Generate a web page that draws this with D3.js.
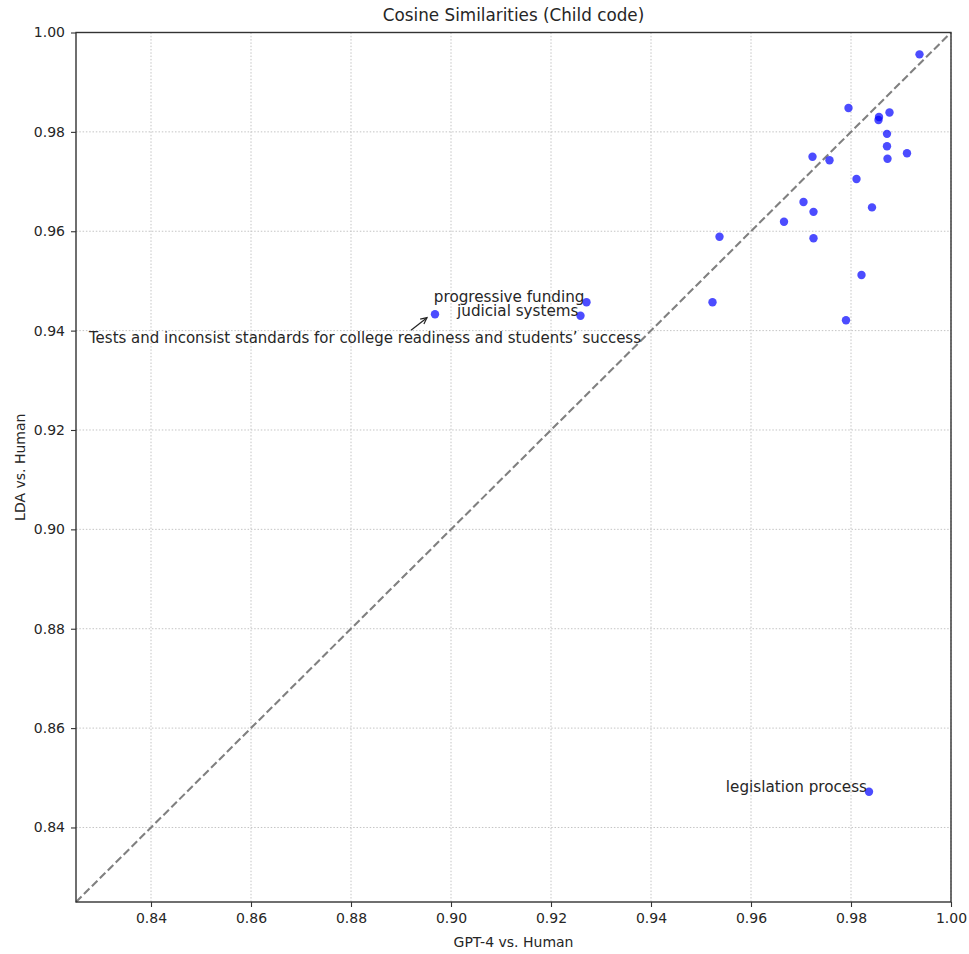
<!DOCTYPE html>
<html>
<head>
<meta charset="utf-8">
<script src="https://cdn.jsdelivr.net/npm/d3@7"></script>
<style>
  html, body { margin: 0; padding: 0; background: #fff; }
  svg { display: block; }
  text { font-family: "DejaVu Sans", sans-serif; fill: #262626; }
</style>
</head>
<body>
<svg id="chart" width="969" height="954"></svg>
<script>
// Cosine similarity per child code: GPT-4 vs. human coding (x) and LDA vs. human coding (y)
const gptVsHuman = [
  0.9937, 0.9795, 0.9856, 0.9855, 0.9877, 0.9872, 0.9872, 0.9873, 0.9912,
  0.9723, 0.9757, 0.9811, 0.9705, 0.9725, 0.9842, 0.9666, 0.9537, 0.9725,
  0.9523, 0.9821, 0.9790, 0.8968, 0.9271, 0.9259, 0.9836
];
const ldaVsHuman = [
  0.9956, 0.9848, 0.9830, 0.9824, 0.9839, 0.9796, 0.9771, 0.9746, 0.9757,
  0.9750, 0.9743, 0.9705, 0.9659, 0.9639, 0.9648, 0.9619, 0.9589, 0.9586,
  0.9457, 0.9512, 0.9421, 0.9433, 0.9457, 0.9430, 0.8472
];
// Names of the child codes that are labelled (empty = unlabelled)
const codeLabels = [
  "", "", "", "", "", "", "", "", "",
  "", "", "", "", "", "", "", "", "",
  "", "", "",
  "Tests and inconsist standards for college readiness and students\u2019 success",
  "progressive funding", "judicial systems", "legislation process"
];
// Codes whose label is set off from the point with an arrow
const arrowLabels = ["Tests and inconsist standards for college readiness and students\u2019 success"];

const axisDomain = [0.825, 1.0];
const tickValues = [0.84, 0.86, 0.88, 0.90, 0.92, 0.94, 0.96, 0.98, 1.00];

const chartTitle = "Cosine Similarities (Child code)";
const xTitle = "GPT-4 vs. Human";
const yTitle = "LDA vs. Human";

const W = 969, H = 954;
const plot = { left: 76, right: 951, top: 32.5, bottom: 902 };
const labelSize = 15.2;

const svg = d3.select("#chart");
const x = d3.scaleLinear().domain(axisDomain).range([plot.left, plot.right]);
const y = d3.scaleLinear().domain(axisDomain).range([plot.bottom, plot.top]);

const points = gptVsHuman.map((g, i) => ({ gx: g, ly: ldaVsHuman[i], label: codeLabels[i] }));

// grid
const grid = svg.append("g").attr("class", "grid")
  .attr("stroke", "#c4c4c4").attr("stroke-width", 1).attr("stroke-dasharray", "1.5,1.8");
grid.selectAll("line.vx").data(tickValues).join("line")
  .attr("x1", d => x(d)).attr("x2", d => x(d))
  .attr("y1", plot.top).attr("y2", plot.bottom);
grid.selectAll("line.hy").data(tickValues).join("line")
  .attr("y1", d => y(d)).attr("y2", d => y(d))
  .attr("x1", plot.left).attr("x2", plot.right);

// y = x reference line
svg.append("line")
  .attr("x1", x(axisDomain[0])).attr("y1", y(axisDomain[0]))
  .attr("x2", x(axisDomain[1])).attr("y2", y(axisDomain[1]))
  .attr("stroke", "#808080").attr("stroke-width", 2.1)
  .attr("stroke-dasharray", "7.8,3.4");

// points
svg.append("g").selectAll("circle").data(points).join("circle")
  .attr("cx", d => x(d.gx)).attr("cy", d => y(d.ly))
  .attr("r", 4.2)
  .attr("fill", "blue").attr("fill-opacity", 0.7);

// axes
const fmt = d3.format(".2f");
const xAxis = svg.append("g").attr("transform", `translate(0,${plot.bottom})`)
  .call(d3.axisBottom(x).tickValues(tickValues).tickFormat(fmt).tickSize(5).tickPadding(6));
const yAxis = svg.append("g").attr("transform", `translate(${plot.left},0)`)
  .call(d3.axisLeft(y).tickValues(tickValues).tickFormat(fmt).tickSize(5).tickPadding(6));
[xAxis, yAxis].forEach(a => {
  a.select(".domain").remove();
  a.selectAll(".tick line").attr("stroke", "#333").attr("stroke-width", 1.1);
  a.selectAll(".tick text").attr("font-size", 14).attr("fill", "#262626")
    .attr("font-family", "DejaVu Sans, sans-serif");
});

// frame
svg.append("rect")
  .attr("x", plot.left).attr("y", plot.top)
  .attr("width", plot.right - plot.left).attr("height", plot.bottom - plot.top)
  .attr("fill", "none").attr("stroke", "#333").attr("stroke-width", 1.4);

// point labels
const labelled = points.filter(d => d.label);
labelled.forEach(d => {
  const px = x(d.gx), py = y(d.ly);
  if (arrowLabels.includes(d.label)) {
    svg.append("text")
      .attr("x", px - 70).attr("y", py + 29)
      .attr("text-anchor", "middle").attr("font-size", labelSize)
      .attr("textLength", 552).attr("lengthAdjust", "spacingAndGlyphs")
      .text(d.label);
    const tail = [px - 24, py + 16], tip = [px - 8, py + 3.5];
    const ang = Math.atan2(tip[1] - tail[1], tip[0] - tail[0]);
    const hl = 7, ha = Math.PI / 7;
    svg.append("line")
      .attr("x1", tail[0]).attr("y1", tail[1]).attr("x2", tip[0]).attr("y2", tip[1])
      .attr("stroke", "#222").attr("stroke-width", 1.2);
    svg.append("path")
      .attr("d", `M${tip[0] - hl * Math.cos(ang - ha)},${tip[1] - hl * Math.sin(ang - ha)}L${tip[0]},${tip[1]}L${tip[0] - hl * Math.cos(ang + ha)},${tip[1] - hl * Math.sin(ang + ha)}`)
      .attr("fill", "none").attr("stroke", "#222").attr("stroke-width", 1.2);
  } else {
    svg.append("text")
      .attr("x", px - 2).attr("y", py)
      .attr("text-anchor", "end").attr("font-size", labelSize)
      .text(d.label);
  }
});

// titles
svg.append("text")
  .attr("x", (plot.left + plot.right) / 2).attr("y", 20.5)
  .attr("text-anchor", "middle").attr("font-size", 16.8)
  .text(chartTitle);
svg.append("text")
  .attr("x", (plot.left + plot.right) / 2).attr("y", 947)
  .attr("text-anchor", "middle").attr("font-size", 14)
  .text(xTitle);
svg.append("text")
  .attr("transform", `translate(25,${(plot.top + plot.bottom) / 2}) rotate(-90)`)
  .attr("text-anchor", "middle").attr("font-size", 14)
  .text(yTitle);
</script>
</body>
</html>
